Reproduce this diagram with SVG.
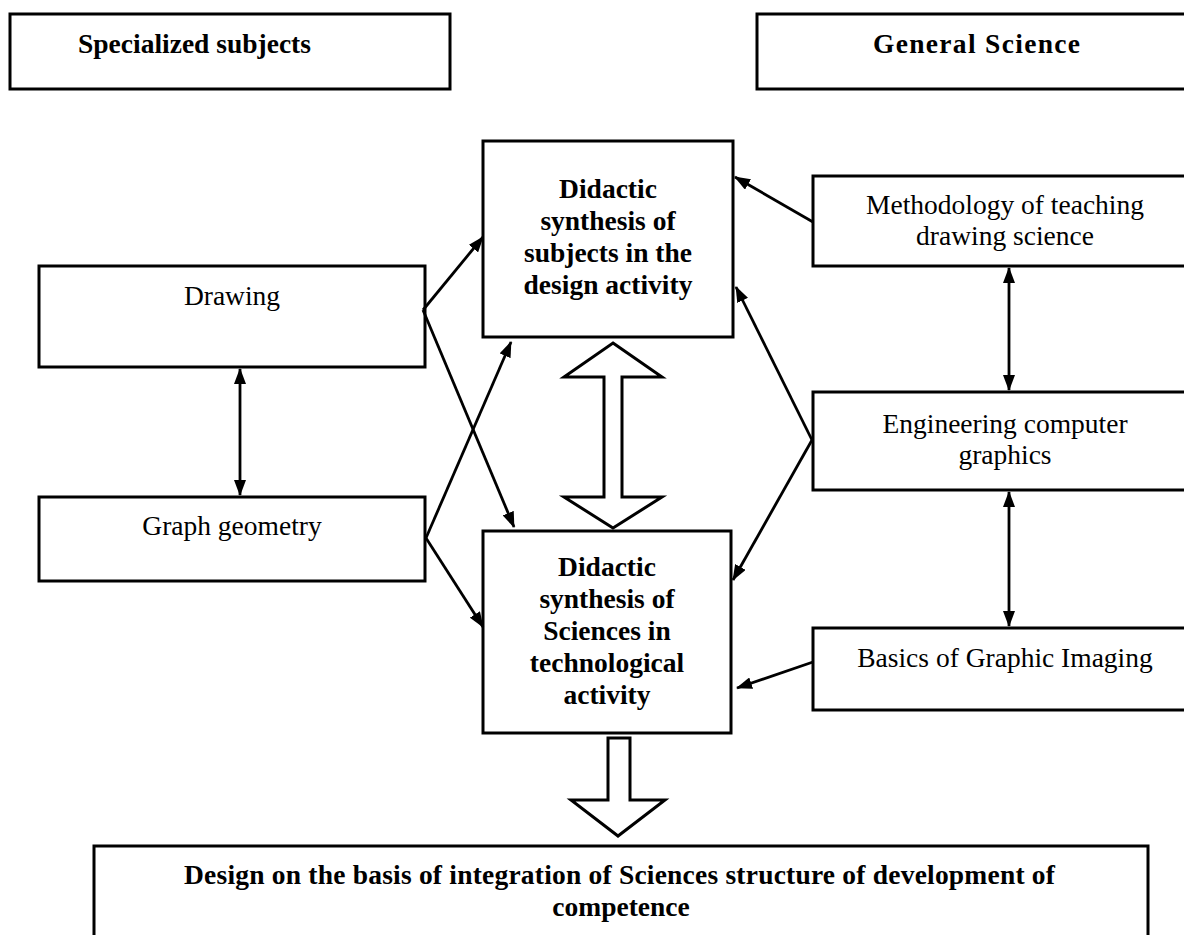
<svg xmlns="http://www.w3.org/2000/svg" width="1184" height="935" viewBox="0 0 1184 935">
<style>
  .box{fill:#fff;stroke:#000;stroke-width:3}
  .t{font-family:"Liberation Serif","Times New Roman",serif;font-size:27.5px;fill:#000;text-anchor:middle}
  .b{font-weight:bold}
  .c{fill:none;stroke:#000;stroke-width:2.8}
  .h{fill:#fff;stroke:#000;stroke-width:3;stroke-linejoin:miter}
</style>
<defs>
  <marker id="ah" markerUnits="userSpaceOnUse" markerWidth="16" markerHeight="12" refX="15" refY="6" orient="auto-start-reverse" viewBox="0 0 16 12">
    <path d="M0,0 L16,6 L0,12 z" fill="#000"/>
  </marker>
</defs>
<rect width="1184" height="935" fill="#fff"/>

<g id="specialized">
  <rect class="box" x="10" y="14" width="440" height="75"/>
  <text class="t b" x="78" y="53" style="text-anchor:start">Specialized subjects</text>
</g>
<g id="general">
  <rect class="box" x="757" y="14" width="450" height="75"/>
  <text class="t b" x="873" y="53" style="text-anchor:start" textLength="207" lengthAdjust="spacing">General Science</text>
</g>

<g id="didactic-design">
  <rect class="box" x="483" y="141" width="250" height="196"/>
  <text class="t b" x="608" y="198">Didactic</text>
  <text class="t b" x="608" y="230">synthesis of</text>
  <text class="t b" x="608" y="262">subjects in the</text>
  <text class="t b" x="608" y="294">design activity</text>
</g>

<g id="didactic-tech">
  <rect class="box" x="483" y="531" width="248" height="202"/>
  <text class="t b" x="607" y="576">Didactic</text>
  <text class="t b" x="607" y="608">synthesis of</text>
  <text class="t b" x="607" y="640">Sciences in</text>
  <text class="t b" x="607" y="672">technological</text>
  <text class="t b" x="607" y="704">activity</text>
</g>

<g id="drawing">
  <rect class="box" x="39" y="266" width="386" height="101"/>
  <text class="t" x="232" y="305">Drawing</text>
</g>
<g id="graph-geometry">
  <rect class="box" x="39" y="497" width="386" height="84"/>
  <text class="t" x="232" y="535">Graph geometry</text>
</g>

<g id="methodology">
  <rect class="box" x="813" y="176" width="400" height="90"/>
  <text class="t" x="1005" y="214">Methodology of teaching</text>
  <text class="t" x="1005" y="245">drawing science</text>
</g>
<g id="engineering">
  <rect class="box" x="813" y="392" width="400" height="98"/>
  <text class="t" x="1005" y="433">Engineering computer</text>
  <text class="t" x="1005" y="464">graphics</text>
</g>
<g id="basics">
  <rect class="box" x="813" y="628" width="400" height="82"/>
  <text class="t" x="1005" y="667">Basics of Graphic Imaging</text>
</g>

<g id="result">
  <rect class="box" x="94" y="846" width="1054" height="120"/>
  <text class="t b" x="184" y="884" style="text-anchor:start" textLength="871" lengthAdjust="spacing">Design on the basis of integration of Sciences structure of development of</text>
  <text class="t b" x="621" y="916">competence</text>
</g>

<g id="connectors">
  <line class="c" x1="240" y1="369" x2="240" y2="495" marker-start="url(#ah)" marker-end="url(#ah)"/>
  <line class="c" x1="1009" y1="268" x2="1009" y2="390" marker-start="url(#ah)" marker-end="url(#ah)"/>
  <line class="c" x1="1009" y1="492" x2="1009" y2="626" marker-start="url(#ah)" marker-end="url(#ah)"/>

  <line class="c" x1="423" y1="310" x2="483" y2="237" marker-end="url(#ah)"/>
  <line class="c" x1="423" y1="310" x2="514" y2="527" marker-end="url(#ah)"/>
  <line class="c" x1="426" y1="538" x2="511" y2="342" marker-end="url(#ah)"/>
  <line class="c" x1="426" y1="538" x2="483" y2="627" marker-end="url(#ah)"/>

  <line class="c" x1="813" y1="222" x2="735" y2="177" marker-end="url(#ah)"/>
  <line class="c" x1="812" y1="440" x2="736" y2="287" marker-end="url(#ah)"/>
  <line class="c" x1="812" y1="440" x2="733" y2="580" marker-end="url(#ah)"/>
  <line class="c" x1="813" y1="662" x2="737" y2="688" marker-end="url(#ah)"/>

  <polygon class="h" points="613,343 662,377 622,377 622,497 662,497 613,528 564,497 604,497 604,377 564,377"/>
  <polygon class="h" points="608,738 630,738 630,800 665,800 618,836 571,800 608,800"/>
</g>
</svg>
